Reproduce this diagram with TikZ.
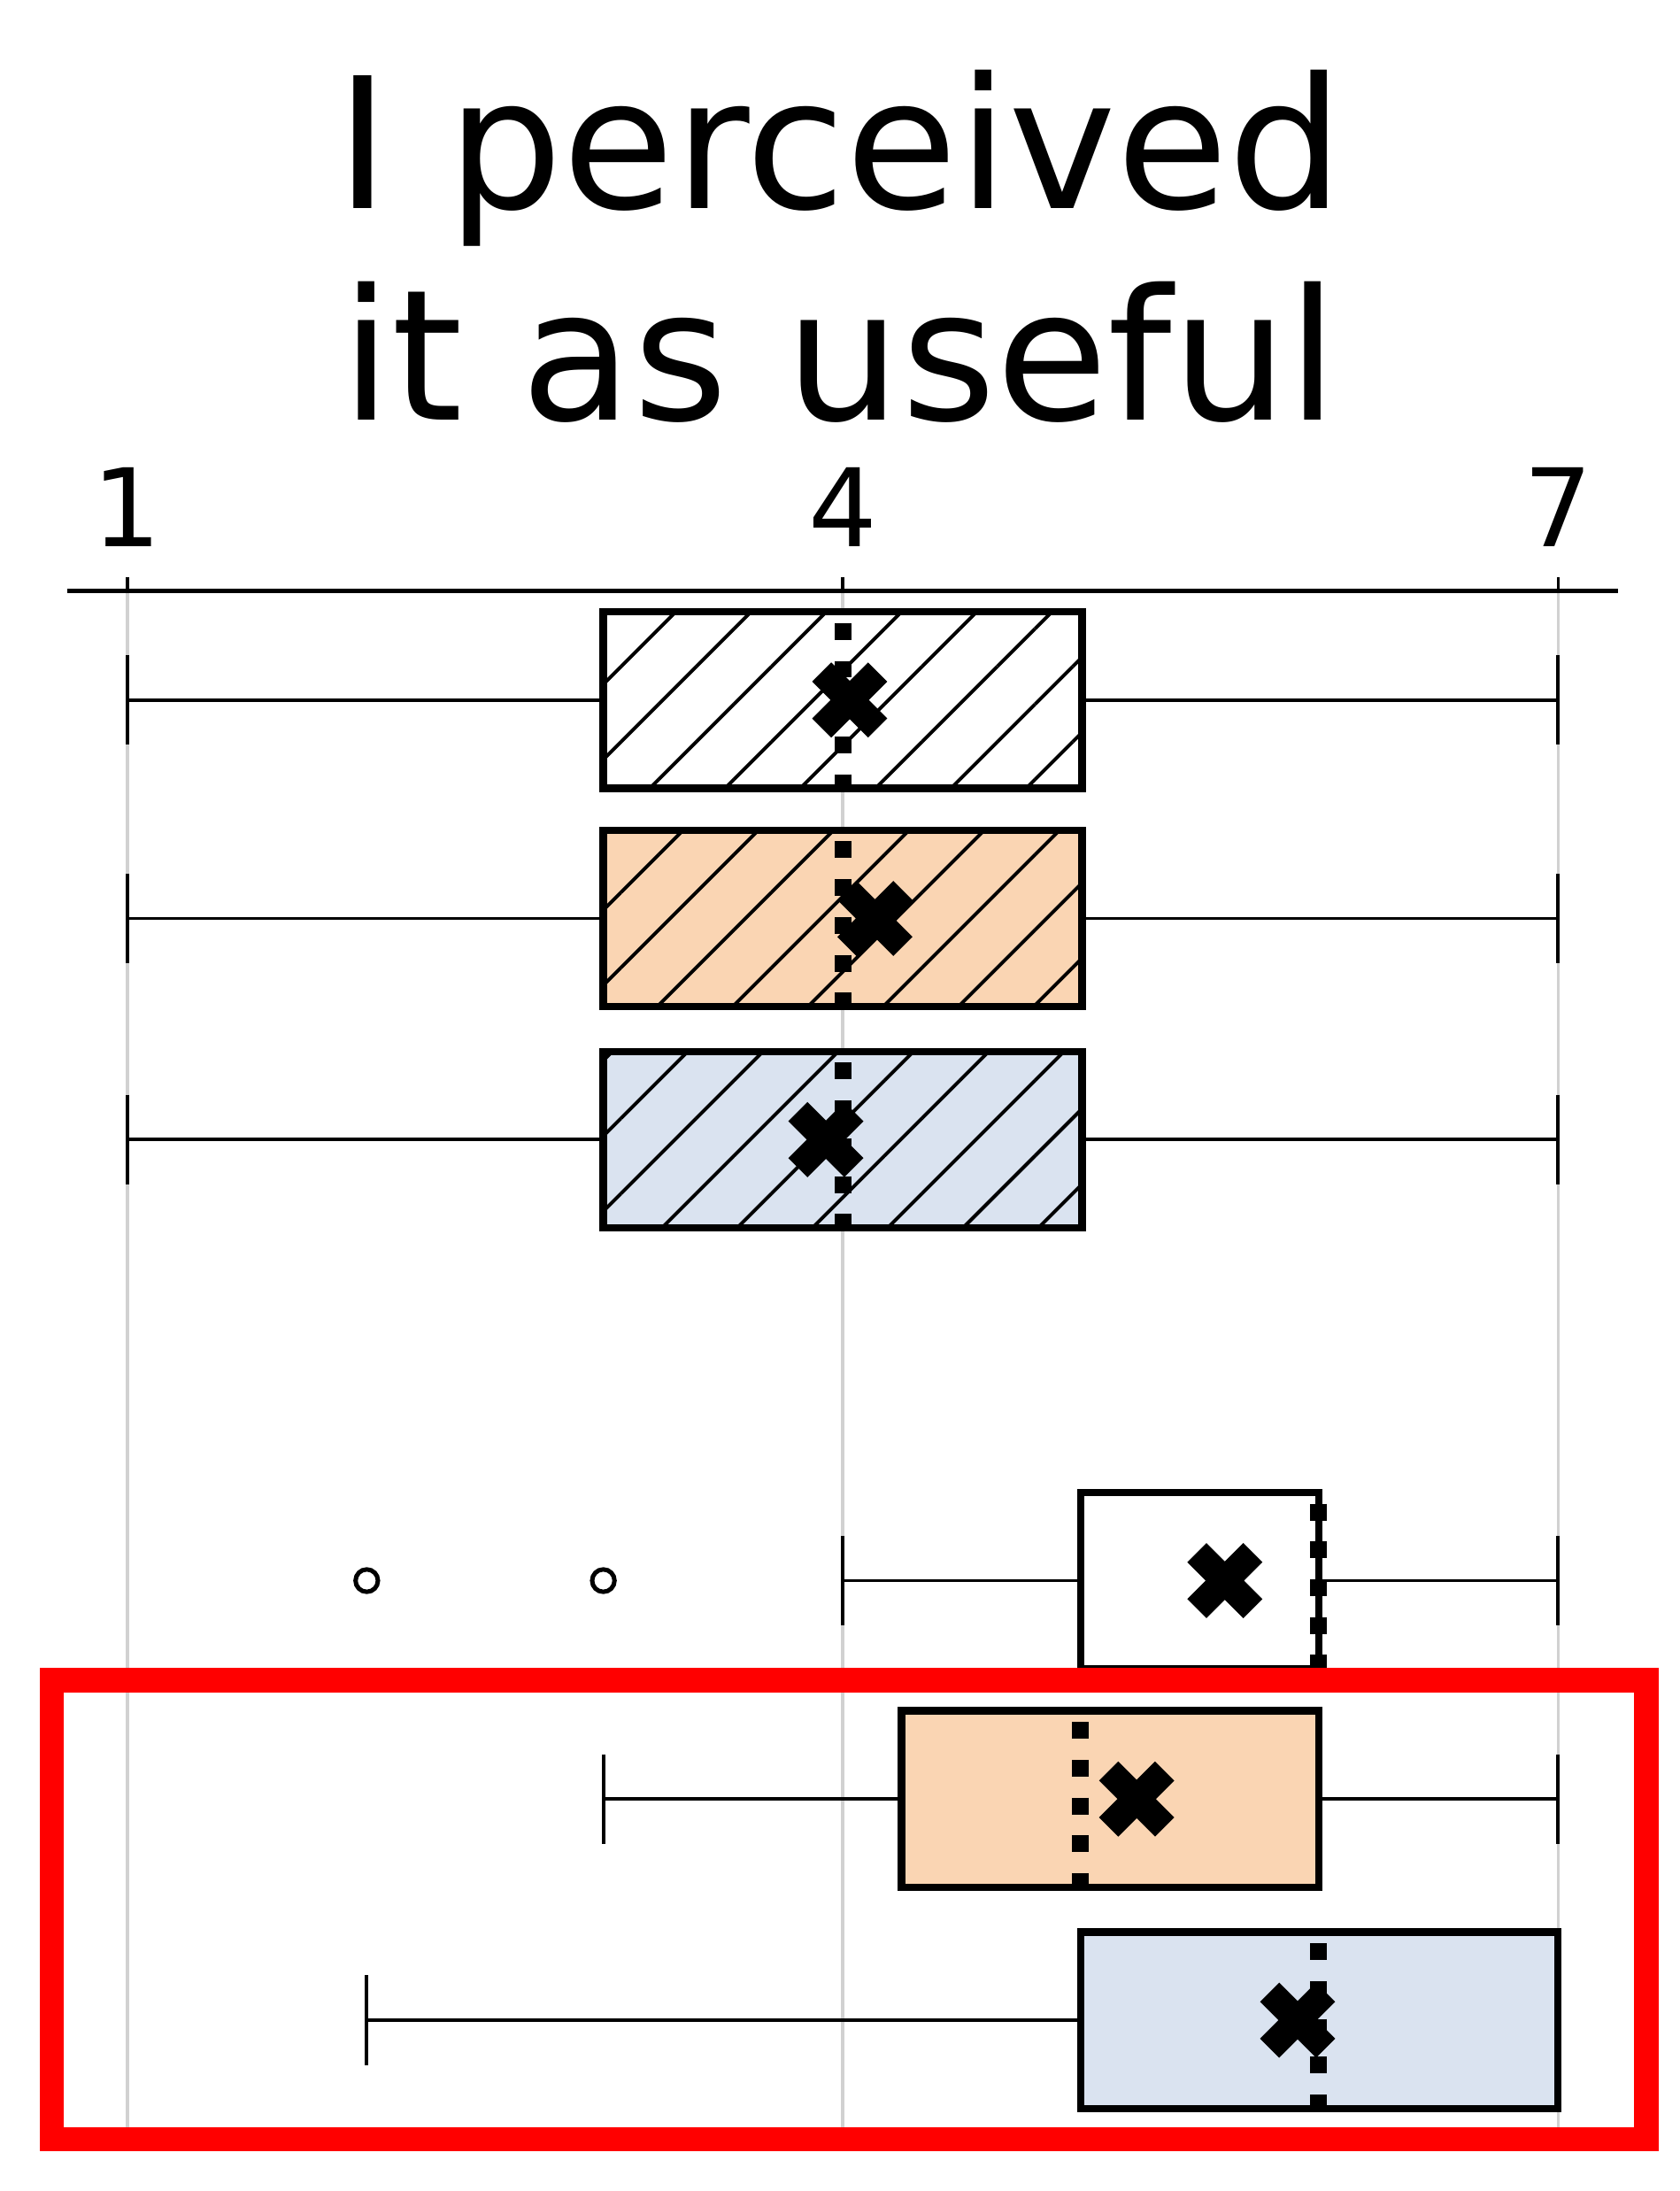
\documentclass[tikz,border=0pt]{standalone}
\usepackage{fontspec}
\setmainfont{DejaVu Sans}
\usetikzlibrary{patterns.meta}
\definecolor{orng}{HTML}{FAD5B3}
\definecolor{blu}{HTML}{DAE3F0}
\tikzset{
  boxline/.style={line width=1.5pt},
  whisk/.style={line width=0.7pt},
  medline/.style={line width=3.4pt,dash pattern=on 0.12cm off 0.15cm},
  meanx/.style={line width=5.5pt},
  hatch/.style={pattern={Lines[angle=45,distance=0.38cm,line width=0.7pt]}},
  nohatch/.style={fill=none},
}
% box: ymid, q1, q3, lowwhisker, highwhisker, median, mean, fill colour, hatching
\newcommand{\drawbox}[9]{%
  \fill[#8] (#2,#1-63) rectangle (#3,#1+63);
  \fill[#9] (#2,#1-63) rectangle (#3,#1+63);
  \draw[whisk] (#4,#1) -- (#2,#1) (#3,#1) -- (#5,#1);
  \draw[whisk] (#4,#1-32) -- (#4,#1+32) (#5,#1-32) -- (#5,#1+32);
  \draw[boxline] (#2,#1-63) rectangle (#3,#1+63);
  \draw[medline] (#6,#1-55) -- (#6,#1+63);
  \draw[meanx] (#7-20,#1-20) -- (#7+20,#1+20) (#7-20,#1+20) -- (#7+20,#1-20);
}
\begin{document}
\begin{tikzpicture}[x=0.01cm,y=-0.01cm]
\useasboundingbox (0,0) rectangle (1200,1565);
% title
\node[font=\fontsize{37}{43}\selectfont,align=center] (title) at (600,176) {I perceived\\it as useful};
% grid and axis
\foreach \x/\lab in {91/1,602/4,1113/7} {
  \draw[black!18,line width=0.6pt] (\x,422) -- (\x,1525);
  \draw[line width=0.6pt] (\x,422) -- (\x,412);
  \node[font=\fontsize{22}{26}\selectfont] (tick\lab) at (\x,362) {\lab};
}
\draw[line width=0.8pt] (48,422) -- (1156,422);
% boxes
\drawbox{500}{431}{773}{91}{1113}{602}{607}{white}{hatch}
\drawbox{656}{431}{773}{91}{1113}{602}{625}{orng}{hatch}
\drawbox{814}{431}{773}{91}{1113}{602}{590}{blu}{hatch}
\drawbox{1129}{772}{942}{602}{1113}{942}{875}{white}{nohatch}
\drawbox{1285}{644}{942}{431}{1113}{772}{812}{orng}{nohatch}
\drawbox{1443}{772}{1113}{262}{1113}{942}{927}{blu}{nohatch}
% outliers
\draw[line width=0.9pt,fill=white] (262,1129) circle (8) (431,1129) circle (8);
% highlight
\draw[red,line width=5pt] (37,1200) rectangle (1176,1528);
\end{tikzpicture}
\end{document}
